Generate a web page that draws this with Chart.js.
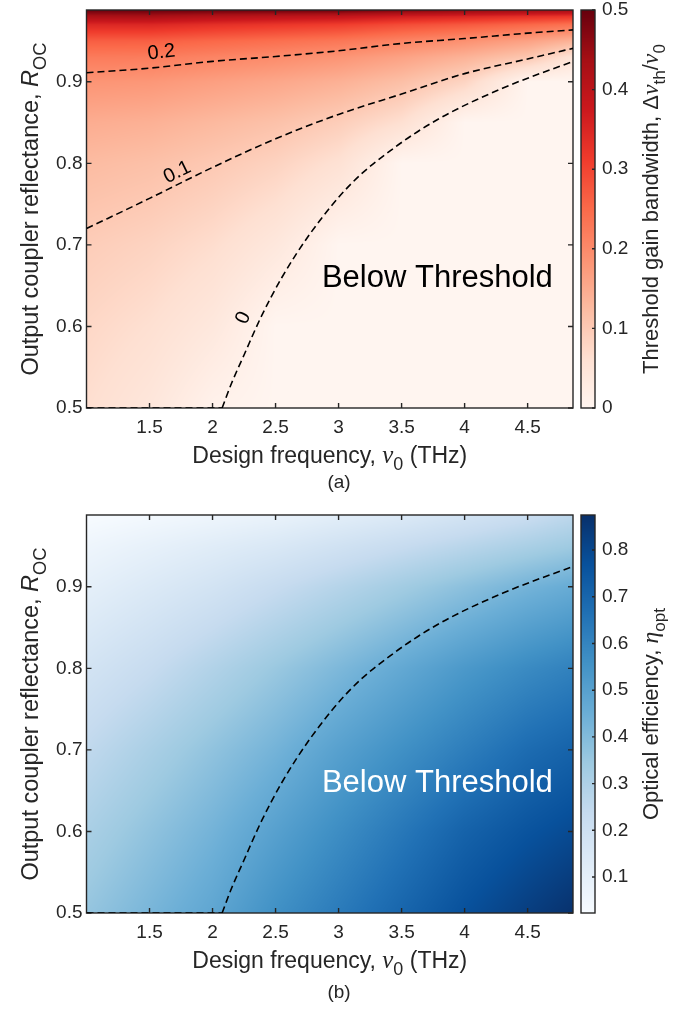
<!DOCTYPE html>
<html>
<head>
<meta charset="utf-8">
<script src="https://cdn.jsdelivr.net/npm/chart.js@4.4.1/dist/chart.umd.min.js"></script>
<style>
  html, body { margin: 0; padding: 0; background: #fff; }
  canvas { position: absolute; left: 0; }
</style>
</head>
<body>
<canvas id="panelA" width="689" height="505" style="top:0"></canvas>
<canvas id="panelB" width="689" height="505" style="top:505px"></canvas>
<script>
const FONT = '"Liberation Sans", Arial, Helvetica, sans-serif';
const SERIF = '"Liberation Serif", "DejaVu Serif", serif';
const INK = '#262626';

// axes
const freqTicks = [1.5, 2, 2.5, 3, 3.5, 4, 4.5];
const reflTicks = [0.5, 0.6, 0.7, 0.8, 0.9];
const bandwidthTicks = [0, 0.1, 0.2, 0.3, 0.4, 0.5];
const efficiencyTicks = [0.1, 0.2, 0.3, 0.4, 0.5, 0.6, 0.7, 0.8];
const freqRange = [1.0, 4.86];
const reflRange = [0.5, 0.988];
const bandwidthRange = [0, 0.5];
const efficiencyRange = [0.023, 0.875];

// sampled maps: one row per reflectance, one column per frequency
const gridFreq = [1.0, 1.5, 2.0, 2.5, 3.0, 3.5, 4.0, 4.5, 4.86];
const bandwidthRefl = [0.5, 0.6, 0.7, 0.8, 0.85, 0.9, 0.93, 0.95, 0.97, 0.98, 0.988];
const bandwidth = [
  [0.064, 0.043, 0.010, 0,     0,     0,     0,     0,     0],
  [0.077, 0.062, 0.039, 0,     0,     0,     0,     0,     0],
  [0.095, 0.084, 0.067, 0.040, 0,     0,     0,     0,     0],
  [0.124, 0.116, 0.102, 0.085, 0.058, 0,     0,     0,     0],
  [0.147, 0.141, 0.128, 0.114, 0.094, 0.062, 0,     0,     0],
  [0.184, 0.180, 0.168, 0.156, 0.141, 0.118, 0.082, 0,     0],
  [0.223, 0.221, 0.209, 0.197, 0.184, 0.163, 0.138, 0.105, 0.052],
  [0.266, 0.265, 0.253, 0.242, 0.230, 0.209, 0.189, 0.164, 0.137],
  [0.347, 0.348, 0.333, 0.322, 0.311, 0.290, 0.273, 0.253, 0.237],
  [0.426, 0.430, 0.413, 0.400, 0.390, 0.366, 0.350, 0.332, 0.321],
  [0.500, 0.500, 0.500, 0.500, 0.500, 0.484, 0.468, 0.451, 0.443]
];
const efficiencyRefl = [0.5, 0.6, 0.7, 0.8, 0.9, 0.95, 0.988];
const efficiency = [
  [0.36, 0.42, 0.48, 0.56, 0.63, 0.70, 0.77, 0.83, 0.87],
  [0.31, 0.37, 0.43, 0.50, 0.57, 0.64, 0.71, 0.76, 0.79],
  [0.25, 0.31, 0.37, 0.43, 0.50, 0.56, 0.62, 0.68, 0.71],
  [0.18, 0.23, 0.29, 0.35, 0.41, 0.47, 0.53, 0.58, 0.61],
  [0.10, 0.14, 0.18, 0.23, 0.28, 0.33, 0.38, 0.43, 0.46],
  [0.06, 0.09, 0.12, 0.15, 0.19, 0.23, 0.27, 0.31, 0.34],
  [0.02, 0.04, 0.06, 0.08, 0.11, 0.14, 0.18, 0.22, 0.26]
];

// contour lines
const c02Freq = [1.0, 1.5, 2.0, 2.5, 3.0, 3.5, 4.0, 4.5, 4.86];
const c02Refl = [0.911, 0.9167, 0.925, 0.931, 0.938, 0.947, 0.953, 0.9596, 0.9636];
const c01Freq = [1.0, 1.5, 2.0, 2.5, 3.0, 3.5, 4.0, 4.5, 4.86];
const c01Refl = [0.720, 0.757, 0.795, 0.830, 0.860, 0.885, 0.910, 0.928, 0.941];
const thresholdFreq = [2.076, 2.15, 2.25, 2.38, 2.55, 2.78, 3.1, 3.45, 3.8, 4.3, 4.86];
const thresholdRefl = [0.5, 0.53, 0.565, 0.61, 0.66, 0.715, 0.775, 0.82, 0.855, 0.892, 0.925];
const edgeFreq = [1.0, 2.076];
const edgeRefl = [0.5, 0.5];

const labelText = ['0.2', '0.1', '0'];
const labelFreq = [1.595, 1.72, 2.245];
const labelRefl = [0.936, 0.789, 0.6105];

const reds = ['#fff5f0', '#fee0d2', '#fcbba1', '#fc9272', '#fb6a4a', '#ef3b2c', '#cb181d', '#a50f15', '#67000d'];
const blues = ['#f7fbff', '#deebf7', '#c6dbef', '#9ecae1', '#6baed6', '#4292c6', '#2171b5', '#08519c', '#08306b'];

const toRgb = h => [1, 3, 5].map(i => parseInt(h.slice(i, i + 2), 16));

function colorAt(stops, t) {
  t = Math.min(1, Math.max(0, t));
  const p = t * (stops.length - 1);
  const i = Math.min(stops.length - 2, Math.floor(p));
  const f = p - i;
  const a = stops[i], b = stops[i + 1];
  return [0, 1, 2].map(k => a[k] + (b[k] - a[k]) * f);
}

function locate(arr, v) {
  const n = arr.length - 1;
  if (v <= arr[0]) return [0, 0];
  if (v >= arr[n]) return [n - 1, 1];
  let i = 0;
  while (arr[i + 1] < v) i++;
  return [i, (v - arr[i]) / (arr[i + 1] - arr[i])];
}

function sampleGrid(xs, ys, z, x, y) {
  const [i, fx] = locate(xs, x);
  const [j, fy] = locate(ys, y);
  const lo = z[j][i] * (1 - fx) + z[j][i + 1] * fx;
  const hi = z[j + 1][i] * (1 - fx) + z[j + 1][i + 1] * fx;
  return lo * (1 - fy) + hi * fy;
}

// text with italic symbols and subscripts
function drawRich(ctx, parts, size, x, y, rot) {
  const fontOf = s => s === 's' ? `${size * 0.78}px ${FONT}`
    : s === 'i' ? `italic ${size}px ${FONT}`
    : s === 'g' ? `italic ${size * 1.08}px ${SERIF}`
    : `${size}px ${FONT}`;
  ctx.save();
  ctx.translate(x, y);
  ctx.rotate(rot);
  ctx.textBaseline = 'alphabetic';
  ctx.textAlign = 'left';
  let total = 0;
  parts.forEach(([t, s]) => { ctx.font = fontOf(s); total += ctx.measureText(t).width; });
  let cx = -total / 2;
  parts.forEach(([t, s]) => {
    ctx.font = fontOf(s);
    ctx.fillText(t, cx, s === 's' ? size * 0.32 : 0);
    cx += ctx.measureText(t).width;
  });
  ctx.restore();
}

function heatmapPlugin(cfg) {
  const stops = cfg.colors.map(toRgb);
  return {
    id: 'heatmap',
    beforeDatasetsDraw(chart) {
      const { ctx, chartArea: a, scales } = chart;
      const xs = scales.x, ys = scales.y, cb = scales.cb;
      const w = Math.round(a.right - a.left), h = Math.round(a.bottom - a.top);
      const off = document.createElement('canvas');
      off.width = w; off.height = h;
      const octx = off.getContext('2d');
      const img = octx.createImageData(w, h);
      for (let j = 0; j < h; j++) {
        const r = ys.getValueForPixel(a.top + j + 0.5);
        for (let i = 0; i < w; i++) {
          const f = xs.getValueForPixel(a.left + i + 0.5);
          const v = sampleGrid(gridFreq, cfg.refl, cfg.values, f, r);
          const c = colorAt(stops, (v - cb.min) / (cb.max - cb.min));
          const k = (j * w + i) * 4;
          img.data[k] = c[0]; img.data[k + 1] = c[1]; img.data[k + 2] = c[2]; img.data[k + 3] = 255;
        }
      }
      octx.putImageData(img, 0, 0);
      ctx.drawImage(off, a.left, a.top, a.right - a.left, a.bottom - a.top);

      // colour bar
      const bx = cb.left + 8, bw = 14;
      for (let py = Math.floor(cb.top); py < cb.bottom; py++) {
        const c = colorAt(stops, (cb.getValueForPixel(py + 0.5) - cb.min) / (cb.max - cb.min));
        ctx.fillStyle = `rgb(${c[0]},${c[1]},${c[2]})`;
        ctx.fillRect(bx, py, bw, 1);
      }
      ctx.strokeStyle = INK;
      ctx.lineWidth = 1.4;
      ctx.strokeRect(bx, cb.top, bw, cb.bottom - cb.top);
      ctx.beginPath();
      cfg.cbTicks.forEach(v => {
        const py = cb.getPixelForValue(v);
        ctx.moveTo(bx + bw, py); ctx.lineTo(bx + bw - 3, py);
      });
      ctx.stroke();

      // axes box with inward ticks
      ctx.strokeRect(a.left, a.top, a.right - a.left, a.bottom - a.top);
      ctx.beginPath();
      freqTicks.forEach(v => {
        const px = xs.getPixelForValue(v);
        ctx.moveTo(px, a.bottom); ctx.lineTo(px, a.bottom - 5);
        ctx.moveTo(px, a.top); ctx.lineTo(px, a.top + 5);
      });
      reflTicks.forEach(v => {
        const py = ys.getPixelForValue(v);
        ctx.moveTo(a.left, py); ctx.lineTo(a.left + 5, py);
        ctx.moveTo(a.right, py); ctx.lineTo(a.right - 5, py);
      });
      ctx.stroke();
    }
  };
}

function slopeAngle(fx, fy, f, xs, ys) {
  const [i] = locate(fx, f);
  const dx = xs.getPixelForValue(fx[i + 1]) - xs.getPixelForValue(fx[i]);
  const dy = ys.getPixelForValue(fy[i + 1]) - ys.getPixelForValue(fy[i]);
  return Math.atan2(dy, dx);
}

function decorPlugin(cfg) {
  return {
    id: 'decor',
    afterDatasetsDraw(chart) {
      const { ctx, scales } = chart;
      const xs = scales.x, ys = scales.y;
      ctx.save();
      ctx.fillStyle = cfg.noteColor;
      ctx.font = `31px ${FONT}`;
      ctx.textAlign = 'left';
      ctx.textBaseline = 'alphabetic';
      ctx.fillText('Below Threshold', xs.getPixelForValue(2.868), ys.getPixelForValue(0.648));

      (cfg.labels || []).forEach(([text, f, r, cf, cr]) => {
        ctx.save();
        ctx.translate(xs.getPixelForValue(f), ys.getPixelForValue(r));
        ctx.rotate(slopeAngle(cf, cr, f, xs, ys));
        ctx.fillStyle = '#000';
        ctx.font = `20px ${FONT}`;
        ctx.textAlign = 'center';
        ctx.textBaseline = 'middle';
        ctx.fillText(text, 0, 0);
        ctx.restore();
      });
      ctx.restore();
    },
    afterDraw(chart) {
      const { ctx, chartArea: a } = chart;
      const midY = (a.top + a.bottom) / 2;
      ctx.save();
      ctx.fillStyle = INK;
      drawRich(ctx, [['Design frequency, ', 'n'], ['\u03bd', 'g'], ['0', 's'], [' (THz)', 'n']],
        23, (a.left + a.right) / 2, a.bottom + 55, 0);
      drawRich(ctx, [['Output coupler reflectance, ', 'n'], ['R', 'i'], ['OC', 's']],
        23.5, 38, midY, -Math.PI / 2);
      drawRich(ctx, cfg.cbTitle, 22, 658, midY, -Math.PI / 2);
      drawRich(ctx, [[cfg.tag, 'n']], 19, 339, a.bottom + cfg.tagOffset, 0);
      ctx.restore();
    }
  };
}

const tickFont = { family: FONT, size: 19 };

function buildPanel(id, cfg) {
  const lines = cfg.lines.map(([fx, fy]) => ({
    data: fx.map((x, i) => ({ x, y: fy[i] })),
    borderColor: '#000',
    borderWidth: 1.6,
    borderDash: [7, 4],
    pointRadius: 0,
    fill: false,
    cubicInterpolationMode: 'monotone'
  }));
  const noPad = s => { s.paddingTop = 0; s.paddingBottom = 0; s.paddingLeft = 0; s.paddingRight = 0; };
  return new Chart(document.getElementById(id), {
    type: 'line',
    data: { datasets: lines },
    options: {
      responsive: false,
      animation: false,
      events: [],
      layout: { padding: { top: 10, left: 0, right: 0, bottom: 0 } },
      plugins: { legend: { display: false }, tooltip: { enabled: false } },
      scales: {
        x: {
          type: 'linear', position: 'bottom',
          min: freqRange[0], max: freqRange[1],
          grid: { display: false, drawTicks: false }, border: { display: false },
          afterBuildTicks: s => { s.ticks = freqTicks.map(value => ({ value })); },
          afterFit: s => { noPad(s); s.height = 97; },
          ticks: { font: tickFont, color: INK, padding: 8, maxRotation: 0, autoSkip: false, callback: v => String(v) }
        },
        y: {
          type: 'linear', position: 'left',
          min: reflRange[0], max: reflRange[1],
          grid: { display: false, drawTicks: false }, border: { display: false },
          afterBuildTicks: s => { s.ticks = reflTicks.map(value => ({ value })); },
          afterFit: s => { noPad(s); s.width = 86.5; },
          ticks: { font: tickFont, color: INK, padding: 4, callback: v => String(v) }
        },
        cb: {
          type: 'linear', position: 'right', axis: 'y',
          min: cfg.cbRange[0], max: cfg.cbRange[1],
          grid: { display: false, drawTicks: false, drawOnChartArea: false }, border: { display: false },
          afterBuildTicks: s => { s.ticks = cfg.cbTicks.map(value => ({ value })); },
          afterFit: s => { noPad(s); s.width = 116; },
          ticks: { font: tickFont, color: INK, padding: 29, callback: v => String(v) }
        }
      }
    },
    plugins: [heatmapPlugin(cfg), decorPlugin(cfg)]
  });
}

buildPanel('panelA', {
  refl: bandwidthRefl,
  values: bandwidth,
  colors: reds,
  cbRange: bandwidthRange,
  cbTicks: bandwidthTicks,
  cbTitle: [['Threshold gain bandwidth, ', 'n'], ['\u0394', 'n'], ['\u03bd', 'g'], ['th', 's'], ['/', 'n'], ['\u03bd', 'g'], ['0', 's']],
  noteColor: '#000',
  tag: '(a)',
  tagOffset: 80,
  lines: [[c02Freq, c02Refl], [c01Freq, c01Refl], [thresholdFreq, thresholdRefl], [edgeFreq, edgeRefl]],
  labels: [
    [labelText[0], labelFreq[0], labelRefl[0], c02Freq, c02Refl],
    [labelText[1], labelFreq[1], labelRefl[1], c01Freq, c01Refl],
    [labelText[2], labelFreq[2], labelRefl[2], thresholdFreq, thresholdRefl]
  ]
});

buildPanel('panelB', {
  refl: efficiencyRefl,
  values: efficiency,
  colors: blues,
  cbRange: efficiencyRange,
  cbTicks: efficiencyTicks,
  cbTitle: [['Optical efficiency, ', 'n'], ['\u03b7', 'g'], ['opt', 's']],
  noteColor: '#fff',
  tag: '(b)',
  tagOffset: 85,
  lines: [[thresholdFreq, thresholdRefl], [edgeFreq, edgeRefl]]
});
</script>
</body>
</html>
